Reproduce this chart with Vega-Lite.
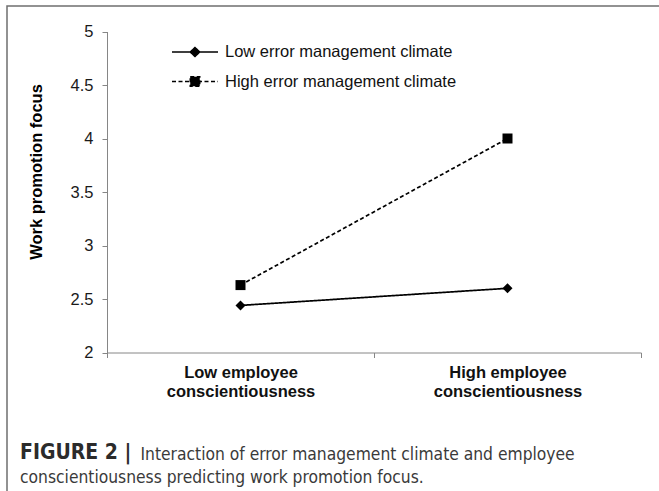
{
  "$schema": "https://vega.github.io/schema/vega-lite/v6.json",
  "autosize": {"type": "none"},
  "padding": {"left": 7, "top": 6, "right": -28, "bottom": -20},
  "width": 680,
  "height": 505,
  "background": "white",
  "config": {
    "view": {"stroke": "#6f6f6f", "strokeWidth": 1.5},
    "font": "Liberation Sans"
  },
  "title": {
    "text": "FIGURE 2 |",
    "subtitle": "conscientiousness predicting work promotion focus.",
    "orient": "bottom",
    "anchor": "start",
    "frame": "group",
    "offset": -69,
    "dx": 13,
    "font": "DejaVu Sans Condensed",
    "fontSize": 21,
    "fontWeight": "bold",
    "color": "#2b2b2b",
    "subtitleFont": "DejaVu Sans Condensed",
    "subtitleFontSize": 17.3,
    "subtitleFontWeight": "normal",
    "subtitleColor": "#3a3a3a",
    "subtitlePadding": 6
  },
  "data": {
    "values": [
      {"climate": "Low error management climate", "conscientiousness": "Low employee conscientiousness", "focus": 2.44},
      {"climate": "Low error management climate", "conscientiousness": "High employee conscientiousness", "focus": 2.6},
      {"climate": "High error management climate", "conscientiousness": "Low employee conscientiousness", "focus": 2.63},
      {"climate": "High error management climate", "conscientiousness": "High employee conscientiousness", "focus": 4.0}
    ]
  },
  "encoding": {
    "x": {
      "field": "conscientiousness",
      "type": "nominal",
      "sort": ["Low employee conscientiousness", "High employee conscientiousness"],
      "scale": {"type": "band", "range": [100, 634], "paddingInner": 0, "paddingOuter": 0},
      "axis": {
        "orient": "bottom",
        "offset": -158.5,
        "tickBand": "extent",
        "tickSize": 5,
        "tickColor": "#868686",
        "domainColor": "#868686",
        "grid": false,
        "labelAngle": 0,
        "labelFontSize": 16.5,
        "labelFontWeight": "bold",
        "labelColor": "#111111",
        "labelPadding": 6.5,
        "labelLineHeight": 19,
        "labelExpr": "datum.value == 'Low employee conscientiousness' ? ['Low employee', 'conscientiousness'] : (datum.value == 'High employee conscientiousness' ? ['High employee', 'conscientiousness'] : '')",
        "title": "Interaction of error management climate and employee",
        "titleFont": "DejaVu Sans Condensed",
        "titleFontSize": 17.3,
        "titleFontWeight": "normal",
        "titleColor": "#3a3a3a",
        "titleX": 133,
        "titleY": 106.5,
        "titleAlign": "left",
        "titleBaseline": "alphabetic"
      }
    },
    "y": {
      "field": "focus",
      "type": "quantitative",
      "scale": {"domain": [2, 5], "range": [346.5, 25.5], "nice": false, "zero": false},
      "axis": {
        "orient": "left",
        "offset": -100,
        "values": [2, 2.5, 3, 3.5, 4, 4.5, 5],
        "format": "~g",
        "grid": false,
        "tickSize": 5,
        "tickColor": "#868686",
        "domainColor": "#868686",
        "labelFontSize": 16.5,
        "labelColor": "#1a1a1a",
        "labelPadding": 9,
        "title": "Work promotion focus",
        "titleFontSize": 16.5,
        "titleFontWeight": "bold",
        "titleColor": "#000000",
        "titleAngle": -90,
        "titleX": -71,
        "titleY": 165.5,
        "titleAlign": "center",
        "titleBaseline": "middle"
      }
    }
  },
  "layer": [
    {
      "mark": {"type": "line", "color": "black", "strokeWidth": 1.7},
      "encoding": {
        "strokeDash": {
          "field": "climate",
          "type": "nominal",
          "sort": ["Low error management climate", "High error management climate"],
          "scale": {"range": [[1, 0], [4, 2.5]]},
          "legend": {
            "orient": "none",
            "legendX": 179.75,
            "legendY": 37.75,
            "direction": "vertical",
            "title": null,
            "padding": 0,
            "rowPadding": 12.5,
            "symbolSize": 100,
            "symbolStrokeWidth": 1.5,
            "symbolStrokeColor": "black",
            "symbolFillColor": "black",
            "labelFontSize": 16.5,
            "labelColor": "#111111",
            "labelOffset": 21.75,
            "labelLimit": 400,
            "encode": {
              "symbols": {
                "update": {
                  "shape": {"signal": "datum.value === 'Low error management climate' ? 'M-4.6,0L4.6,0M0,-0.9L0.95,0L0,0.9L-0.95,0Z' : 'M-4.6,0L4.6,0M-0.95,-0.95L0.95,-0.95L0.95,0.95L-0.95,0.95Z'"},
                  "fill": {"value": "black"},
                  "stroke": {"value": "black"}
                }
              }
            }
          }
        }
      }
    },
    {
      "mark": {"type": "point", "filled": true, "color": "black", "opacity": 1, "size": 100},
      "encoding": {
        "shape": {
          "field": "climate",
          "type": "nominal",
          "sort": ["Low error management climate", "High error management climate"],
          "scale": {"range": ["diamond", "square"]},
          "legend": null
        }
      }
    }
  ]
}
